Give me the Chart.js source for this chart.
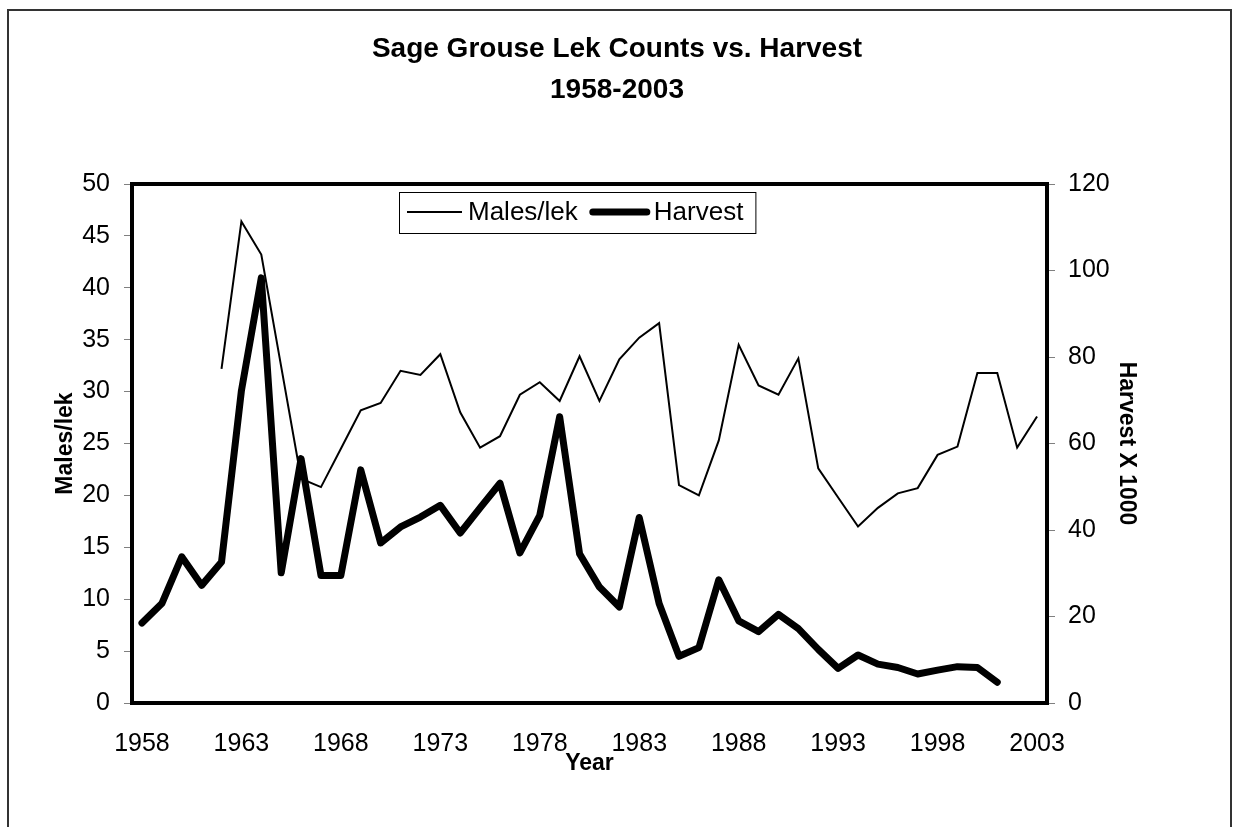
<!DOCTYPE html>
<html lang="en">
<head>
  <meta charset="UTF-8" />
  <title>Sage Grouse Lek Counts vs. Harvest</title>
  <style>
    html, body { margin: 0; padding: 0; background: #fff; }
    #wrap { width: 1235px; height: 827px; position: relative; }
  </style>
</head>
<body>
  <div id="wrap"><canvas id="grouseChart"></canvas></div>

  <script src="https://cdn.jsdelivr.net/npm/chart.js"></script>
  <script>
    // data
    const years = ['1958','1959','1960','1961','1962','1963','1964','1965','1966','1967',
      '1968','1969','1970','1971','1972','1973','1974','1975','1976','1977',
      '1978','1979','1980','1981','1982','1983','1984','1985','1986','1987',
      '1988','1989','1990','1991','1992','1993','1994','1995','1996','1997',
      '1998','1999','2000','2001','2002','2003'];
    const malesPerLek = [null, null, null, null, 32.2, 46.4, 43.2, 32.4, 21.6, 20.8,
      24.5, 28.2, 28.9, 32.0, 31.6, 33.6, 28.0, 24.6, 25.7, 29.7,
      30.9, 29.1, 33.4, 29.1, 33.1, 35.2, 36.6, 21.0, 20.0, 25.3,
      34.5, 30.6, 29.7, 33.2, 22.6, 19.8, 17.0, 18.8, 20.2, 20.7,
      23.9, 24.7, 31.8, 31.8, 24.6, 27.6];
    const harvest = [18.5, 23.0, 33.8, 27.2, 32.6, 72.2, 98.3, 30.1, 56.5, 29.5,
      29.5, 53.9, 37.0, 40.7, 43.0, 45.7, 39.3, 45.1, 50.8, 34.7,
      43.4, 66.2, 34.5, 26.8, 22.2, 42.9, 23.0, 10.8, 12.8, 28.5,
      19.0, 16.5, 20.5, 17.2, 12.4, 8.0, 11.1, 9.0, 8.2, 6.7,
      7.6, 8.4, 8.2, 4.8, null, null];
    const titleLines = ['Sage Grouse Lek Counts vs. Harvest', '1958-2003'];

    const FONT = '"Liberation Sans", Arial, sans-serif';

    // title, outer frame, plot box and the boxed legend
    const decorations = {
      id: 'decorations',
      beforeDraw(chart) {
        const c = chart.ctx;
        c.save();
        c.fillStyle = '#fff';
        c.fillRect(0, 0, chart.width, chart.height);
        c.strokeStyle = '#333';
        c.lineWidth = 2;
        c.strokeRect(8, 10, 1223, 840);
        c.fillStyle = '#000';
        c.textAlign = 'center';
        c.textBaseline = 'alphabetic';
        c.font = 'bold 28px ' + FONT;
        c.fillText(titleLines[0], 617, 57);
        c.fillText(titleLines[1], 617, 98);
        c.restore();
      },
      afterDatasetsDraw(chart) {
        const c = chart.ctx;
        const a = chart.chartArea;
        c.save();
        c.strokeStyle = '#000';
        c.lineWidth = 4;
        c.strokeRect(a.left, a.top, a.right - a.left, a.bottom - a.top);

        // legend
        c.font = '26px ' + FONT;
        const w1 = c.measureText('Males/lek').width;
        const w2 = c.measureText('Harvest').width;
        const x0 = 399, y0 = 192, y1 = 233, mid = 212;
        const boxW = 8 + 61 + w1 + 12 + 64 + w2 + 12;
        c.fillStyle = '#fff';
        c.fillRect(x0, y0, boxW, y1 - y0);
        c.lineWidth = 1;
        c.strokeRect(x0 + 0.5, y0 + 0.5, boxW, y1 - y0);
        let x = x0 + 8;
        c.lineWidth = 2;
        c.beginPath(); c.moveTo(x, mid); c.lineTo(x + 55, mid); c.stroke();
        x += 61;
        c.fillStyle = '#000';
        c.textBaseline = 'middle';
        c.textAlign = 'left';
        c.fillText('Males/lek', x, mid + 1);
        x += w1 + 12;
        c.lineWidth = 7;
        c.lineCap = 'round';
        c.beginPath(); c.moveTo(x + 3, mid); c.lineTo(x + 57, mid); c.stroke();
        x += 64;
        c.fillText('Harvest', x, mid + 1);
        c.restore();
      }
    };

    const ctx = document.getElementById('grouseChart').getContext('2d');

    new Chart(ctx, {
      type: 'line',
      data: {
        labels: years,
        datasets: [{
          label: 'Males/lek',
          data: malesPerLek,
          yAxisID: 'y',
          borderColor: '#000',
          borderWidth: 2,
          pointRadius: 0,
          tension: 0,
          fill: false
        }, {
          label: 'Harvest',
          data: harvest,
          yAxisID: 'y2',
          borderColor: '#000',
          borderWidth: 7,
          borderCapStyle: 'round',
          borderJoinStyle: 'round',
          pointRadius: 0,
          tension: 0,
          fill: false
        }]
      },
      options: {
        responsive: true,
        maintainAspectRatio: false,
        animation: false,
        layout: { padding: { top: 184, left: 0, right: 0, bottom: 0 } },
        plugins: {
          legend: { display: false },
          title: { display: false },
          tooltip: { enabled: false }
        },
        scales: {
          x: {
            offset: true,
            grid: { display: false, drawTicks: false },
            border: { display: false },
            ticks: {
              autoSkip: false,
              maxRotation: 0,
              padding: 26,
              color: '#000',
              font: { family: FONT, size: 25 },
              callback: function (val, i) { return i % 5 === 0 ? years[i] : ''; }
            },
            title: {
              display: true,
              text: 'Year',
              color: '#000',
              font: { family: FONT, size: 23, weight: 'bold' },
              padding: { top: 0, bottom: 50 }
            },
            afterFit(scale) { scale.height = 124; }
          },
          y: {
            position: 'left',
            min: 0,
            max: 50,
            grid: { drawOnChartArea: false, tickLength: 8, color: '#808080' },
            border: { display: false },
            ticks: {
              stepSize: 5,
              padding: 14,
              color: '#000',
              font: { family: FONT, size: 25 }
            },
            title: {
              display: true,
              text: 'Males/lek',
              color: '#000',
              font: { family: FONT, size: 23, weight: 'bold' },
              padding: { top: 52, bottom: 0 }
            },
            afterFit(scale) { scale.width = 132; }
          },
          y2: {
            position: 'right',
            min: 0,
            max: 120,
            grid: { drawOnChartArea: false, tickLength: 8, color: '#808080' },
            border: { display: false },
            ticks: {
              stepSize: 20,
              padding: 13,
              color: '#000',
              font: { family: FONT, size: 25 }
            },
            title: {
              display: true,
              text: 'Harvest X 1000',
              color: '#000',
              font: { family: FONT, size: 23, weight: 'bold' },
              padding: { top: 95, bottom: 0 }
            },
            afterFit(scale) { scale.width = 188; }
          }
        }
      },
      plugins: [decorations]
    });
  </script>
</body>
</html>
